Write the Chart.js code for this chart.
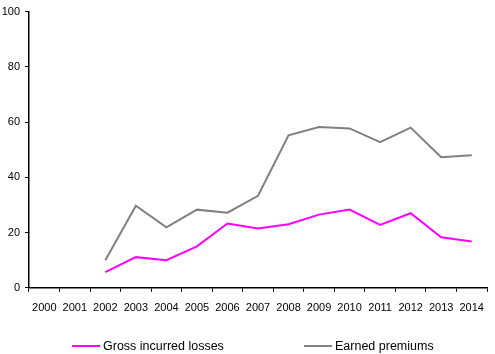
<!DOCTYPE html>
<html>
<head>
<meta charset="utf-8">
<script src="https://cdn.jsdelivr.net/npm/chart.js@4"></script>
<style>
  html, body { margin: 0; padding: 0; background: #fff; }
  #wrap { position: relative; width: 495px; height: 354px; }
  #legend { position: absolute; left: 0; top: 337px; width: 495px; height: 18px;
    font: 12.5px "Liberation Sans", sans-serif; color: #000; }
  #legend .item { position: absolute; top: 0; white-space: nowrap; line-height: 18px; }
  #legend .swatch { display: inline-block; width: 28px; height: 2px; vertical-align: middle;
    margin-right: 3px; position: relative; top: -1px; }
</style>
</head>
<body>
<div id="wrap">
  <canvas id="chart"></canvas>
  <div id="legend"></div>
</div>
<script>
const years = ['2000', '2001', '2002', '2003', '2004', '2005', '2006', '2007',
  '2008', '2009', '2010', '2011', '2012', '2013', '2014'];
// gross incurred losses
const grossLosses = [null, null, 5.7, 11.1, 10.0, 15.0, 23.3, 21.5, 23.0, 26.5, 28.3, 22.8, 27.0, 18.3, 16.8];
// earned premiums
const earnedPremiums = [null, null, 10.0, 29.7, 21.9, 28.3, 27.2, 33.3, 55.2, 58.2, 57.7, 52.7, 58.0, 47.3, 48.0];
const yTicks = [0, 20, 40, 60, 80, 100];
const seriesNames = ['Gross incurred losses', 'Earned premiums'];
const seriesColors = ['#ff00ff', '#808080'];
const legendLeft = [72, 304];

const font = { family: '"Liberation Sans", sans-serif', size: 11 };

const ctx = document.getElementById('chart').getContext('2d');
const chart = new Chart(ctx, {
  type: 'line',
  data: {
    labels: years,
    datasets: [
      {
        label: seriesNames[0],
        data: grossLosses,
        borderColor: seriesColors[0],
        backgroundColor: seriesColors[0],
        borderWidth: 2,
        pointRadius: 0,
        tension: 0,
      },
      {
        label: seriesNames[1],
        data: earnedPremiums,
        borderColor: seriesColors[1],
        backgroundColor: seriesColors[1],
        borderWidth: 2,
        pointRadius: 0,
        tension: 0,
      },
    ],
  },
  options: {
    responsive: true,
    maintainAspectRatio: false,
    animation: false,
    layout: { padding: { left: 1, right: 8, top: -3, bottom: 29 } },
    plugins: {
      tooltip: { enabled: false },
      legend: { display: false },
    },
    scales: {
      x: {
        offset: true,
        grid: { drawOnChartArea: false, color: '#000', tickLength: 4, offset: true },
        border: { color: '#000', width: 1.5 },
        ticks: { color: '#000', font: font, maxRotation: 0, autoSkip: false, padding: 10 },
      },
      y: {
        min: 0,
        max: 100,
        afterBuildTicks: axis => {
          axis.ticks = yTicks.map(v => ({ value: v }));
        },
        afterFit: axis => {
          axis.width = 28;
        },
        grid: { drawOnChartArea: false, color: '#000', tickLength: 4 },
        border: { color: '#000', width: 1.5 },
        ticks: { color: '#000', font: font, padding: 5 },
      },
    },
  },
});

// legend below the chart
const legend = document.getElementById('legend');
seriesNames.forEach((name, i) => {
  const item = document.createElement('span');
  item.className = 'item';
  item.style.left = legendLeft[i] + 'px';
  const sw = document.createElement('span');
  sw.className = 'swatch';
  sw.style.background = seriesColors[i];
  item.appendChild(sw);
  item.appendChild(document.createTextNode(name));
  legend.appendChild(item);
});
</script>
</body>
</html>
